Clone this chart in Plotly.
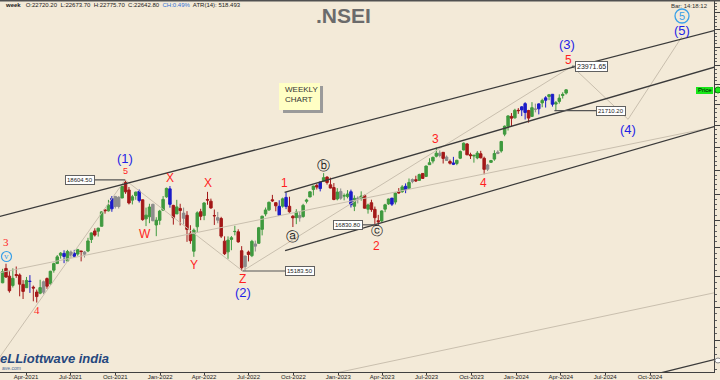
import numpy as np
import pandas as pd
import plotly.graph_objects as go

# ---------------- weekly OHLC data (.NSEI) ----------------
first_week_end = "2021-02-12"
opens = [14789.95, 15270.00, 15010.10, 14702.50, 15064.40, 15048.40, 14736.40, 14628.50, 14837.70, 14644.65,
         14486.50, 14449.45, 14481.05, 14928.25, 14756.25, 15211.35, 15437.75, 15725.10, 15791.40, 15525.85,
         15838.50, 15793.40, 15766.80, 15877.35, 15840.35, 15874.90, 16288.20, 16600.50, 16592.25, 16775.85,
         17400.80, 17363.55, 17443.85, 17932.20, 17531.90, 17867.55, 18500.10, 18189.80, 17783.15, 17967.45,
         18140.95, 17796.25, 17055.80, 17135.55, 17619.10, 16824.25, 17000.55,
         17387.15, 17913.30, 18235.65, 17575.15, 17244.50, 17456.30, 17076.55, 17192.25, 16515.65, 15867.95,
         16757.10, 17329.50, 17181.85, 17809.10, 17740.90, 17183.45, 17006.10, 17068.95, 16227.70, 15845.10,
         16290.95, 16578.45, 16570.55, 15886.15, 15334.50, 15838.50, 15710.50, 16126.20, 16151.40, 16662.55,
         17243.20, 17401.50, 17797.20, 17682.90, 17188.65, 17546.45, 17890.85, 17540.65, 17156.30, 17102.10,
         17094.35, 17144.80, 17736.35, 17910.20, 18211.75, 18376.40, 18246.40, 18552.45, 18719.55, 18402.25,
         18288.80, 17830.40,
         18131.70, 17952.55, 17922.80, 18118.30, 17541.95, 17818.55, 17859.10, 17965.55, 17428.60, 17680.35,
         17421.90, 16985.60, 16977.30, 17427.95, 17634.90, 17863.00, 17707.55, 18124.80, 18120.60, 18339.45,
         18258.65, 18619.15, 18612.00, 18584.80, 18873.30, 18748.55, 19246.50, 19400.35, 19612.15, 19748.45,
         19784.00, 19576.85, 19383.95, 19320.65, 19298.35, 19525.05, 19890.00, 20155.95, 19678.20, 19622.40,
         19539.45, 19722.45, 19521.60, 19053.40, 19345.50, 19486.60, 19731.15, 19844.65, 20601.95, 20965.30,
         21434.80, 21365.20,
         21727.75, 21747.60, 22053.15, 21716.70, 21433.10, 21780.00, 21800.80, 22090.20, 22223.00, 22403.50,
         22517.50, 22031.30, 22163.30, 22455.00, 22578.35]
highs = [15257.10, 15431.75, 15176.50, 15273.15, 15336.30, 15101.70, 14878.60, 14984.05, 15044.35, 14697.70,
         14567.00, 14890.25, 14863.00, 14966.90, 15189.85, 15469.65, 15733.60, 15835.55, 15901.60, 15915.65,
         15893.35, 15915.35, 15952.35, 15881.00, 15876.85, 16349.45, 16543.60, 16701.85, 16722.05, 17340.10,
         17429.55, 17792.95, 17947.65, 17943.50, 17941.85, 18350.75, 18604.45, 18310.45, 17993.20, 18123.45,
         18210.15, 17805.25, 17489.75, 17639.50, 17639.50, 17118.65, 17400.80,
         17944.70, 18286.95, 18350.95, 17599.40, 17794.60, 17639.45, 17490.60, 17351.05, 16815.25, 16694.40,
         17344.60, 17442.40, 17703.70, 18114.65, 17842.75, 17414.70, 17322.50, 17132.85, 16403.70, 16400.55,
         16414.70, 16793.85, 16662.65, 16049.20, 15707.25, 15890.00, 16275.50, 16248.55, 16752.25, 17172.80,
         17490.70, 17724.65, 17992.20, 17685.85, 17777.15, 17883.60, 18096.15, 17919.30, 17196.40, 17428.80,
         17348.55, 17637.00, 17838.90, 18135.10, 18362.30, 18442.15, 18534.90, 18887.60, 18759.40, 18696.10,
         18473.40, 18265.25,
         18251.95, 18049.65, 18183.75, 18204.70, 17972.20, 17935.70, 18134.75, 18004.35, 17644.75, 17799.95,
         17529.90, 17207.25, 17381.60, 17638.70, 17842.15, 17863.00, 18089.15, 18267.45, 18389.70, 18458.90,
         18662.45, 18662.45, 18777.90, 18864.70, 18886.60, 19201.70, 19523.60, 19595.35, 19991.85, 19867.55,
         19795.60, 19645.50, 19465.85, 19584.45, 19458.55, 19867.15, 20222.45, 20195.35, 19766.65, 19661.20,
         19843.65, 19849.75, 19593.80, 19276.25, 19451.30, 19875.25, 19875.15, 20291.55, 21006.10, 21492.30,
         21593.00, 21801.45,
         21834.35, 21928.25, 22124.15, 21750.25, 22126.80, 22053.30, 22068.65, 22297.50, 22420.00, 22525.65,
         22526.60, 22180.70, 22516.00, 22619.00, 22775.70]
lows = [14775.10, 14950.20, 14467.75, 14635.60, 14953.60, 14350.10, 14264.40, 14617.60, 14459.50, 14191.40,
        14151.40, 14416.25, 14416.25, 14591.60, 14725.00, 15126.85, 15421.00, 15607.85, 15450.90, 15505.45,
        15635.95, 15632.75, 15705.85, 15513.45, 15644.75, 15834.65, 16162.05, 16395.70, 16395.70, 16764.85,
        17254.20, 17338.75, 17326.60, 17452.90, 17452.90, 17864.95, 18034.35, 17613.10, 17612.90, 17798.40,
        17688.25, 16985.70, 16782.40, 16891.70, 16966.45, 16410.20, 16833.20,
        17383.25, 17879.15, 17485.70, 16836.80, 17244.50, 16809.65, 16843.80, 16203.25, 16133.80, 15671.45,
        16555.00, 17006.30, 17006.30, 17600.55, 17442.35, 16824.70, 16888.75, 16340.90, 15735.75, 15601.50,
        15903.70, 16438.85, 16172.60, 15183.40, 15191.10, 15511.05, 15661.80, 15858.20, 16142.10, 16438.75,
        17154.80, 17359.75, 17710.75, 17345.20, 17166.20, 17487.45, 17429.70, 17291.65, 16747.70, 16855.55,
        16950.30, 17098.55, 17654.00, 17899.00, 17969.40, 18209.80, 18133.35, 18551.15, 18410.10, 18255.15,
        17779.50, 17774.25,
        17795.55, 17774.25, 17853.65, 17493.55, 17353.40, 17652.55, 17761.65, 17455.40, 17255.20, 17324.35,
        16850.15, 16828.35, 16940.60, 17312.75, 17597.85, 17553.95, 17612.50, 18042.40, 18073.65, 18060.40,
        18254.25, 18464.55, 18516.55, 18571.30, 18647.10, 18722.60, 19234.40, 19300.50, 19562.75, 19563.10,
        19296.45, 19412.75, 19253.60, 19229.70, 19223.65, 19487.75, 19865.35, 19657.50, 19492.10, 19333.60,
        19480.50, 19518.60, 18837.85, 18973.70, 19329.45, 19414.75, 19703.95, 19768.85, 20507.75, 20769.50,
        20976.80, 21329.45,
        21555.65, 21448.65, 21285.55, 21137.20, 21429.60, 21629.20, 21530.20, 21875.25, 21860.65, 22224.35,
        21905.65, 21710.20, 22052.85, 22303.80, 22503.75]
closes = [15163.30, 14981.75, 14529.15, 14938.10, 15030.95, 14744.00, 14507.30, 14867.35, 14834.85, 14617.85,
          14341.35, 14631.10, 14823.15, 14677.80, 15175.30, 15435.65, 15670.25, 15799.35, 15683.35, 15860.35,
          15722.20, 15689.80, 15923.40, 15856.05, 15763.05, 16238.20, 16529.10, 16450.50, 16705.20, 17323.60,
          17369.25, 17585.15, 17853.20, 17532.05, 17895.20, 18338.55, 18114.90, 17671.65, 17916.80, 18102.75,
          17764.80, 17026.45, 17196.70, 17511.30, 16985.20, 17003.75, 17354.05,
          17812.70, 18255.75, 17617.15, 17101.95, 17516.30, 17374.75, 17276.30, 16658.40, 16245.35, 16630.45,
          17287.05, 17153.00, 17670.45, 17784.35, 17475.65, 17171.95, 17102.55, 16411.25, 15782.15, 16266.15,
          16352.45, 16584.30, 16201.80, 15293.50, 15699.25, 15752.05, 16220.60, 16049.20, 16719.45, 17158.25,
          17397.50, 17698.15, 17758.45, 17558.90, 17539.45, 17833.35, 17530.85, 17327.35, 17094.35, 17314.65,
          17185.70, 17576.30, 17786.80, 18117.15, 18349.70, 18307.65, 18512.75, 18696.10, 18496.60, 18269.00,
          17806.80, 18105.30,
          17859.45, 17956.60, 18027.65, 17604.35, 17854.05, 17856.50, 17944.20, 17465.80, 17594.35, 17412.90,
          17100.05, 16945.05, 17359.75, 17599.15, 17828.00, 17624.05, 18065.00, 18069.00, 18314.80, 18203.40,
          18499.35, 18534.10, 18563.40, 18826.00, 18665.50, 19189.05, 19331.80, 19564.50, 19745.00, 19646.05,
          19517.00, 19428.30, 19310.15, 19265.80, 19435.30, 19819.95, 20192.35, 19674.25, 19638.30, 19653.50,
          19751.05, 19542.65, 19047.25, 19230.60, 19425.35, 19731.80, 19794.70, 20267.90, 20969.40, 21456.65,
          21349.40, 21731.40,
          21710.80, 21894.55, 21622.40, 21352.60, 21853.80, 21782.50, 22040.70, 22212.70, 22338.75, 22493.55,
          22023.35, 22096.75, 22326.90, 22513.70, 22742.00]

# ---------------- drawn trend lines (date, price) ----------------
upper_channel_dates = ["2021-01-27", "2025-03-03"]
upper_channel_prices = [17096, 26118]
mid_channel_dates = ["2022-09-13", "2025-03-03"]
mid_channel_prices = [18090, 24086]
low_channel_dates = ["2022-09-14", "2025-03-03"]
low_channel_prices = [15887, 21098]
far_channel_dates = ["2024-10-01", "2025-03-03"]
far_channel_prices = [12027, 12534]

base_line_dates = ["2021-01-27", "2025-03-03"]
base_line_prices = [15092, 21032]
wave1_line_dates = ["2021-01-17", "2021-10-21"]
wave1_line_prices = [12148, 18604.5]
wave2_line_dates = ["2021-10-21", "2022-06-19"]
wave2_line_prices = [18604.5, 15183.5]
wave3_line_dates = ["2022-06-19", "2024-04-24"]
wave3_line_prices = [15183.5, 23971.65]
projection_dates = ["2024-04-24", "2024-08-17", "2024-12-05"]
projection_prices = [23971.65, 21296, 25587]
bottom_line_dates = ["2022-12-15", "2025-03-03"]
bottom_line_prices = [12062, 14534]

# price marker boxes: text, box date, price, connector from, connector to
marker_texts = ["18604.50", "15183.50", "16830.80", "23971.65", "21710.20"]
marker_prices = [18604.5, 15183.5, 16830.8, 23971.65, 21710.2]
marker_box_dates = ["2021-07-21", "2022-10-15", "2023-01-20", "2024-06-03", "2024-07-12"]
marker_link_from = ["2021-08-17", "2022-06-19", "2023-02-17", "2024-04-24", "2024-03-19"]
marker_link_to = ["2021-10-21", "2022-09-17", "2023-03-21", "2024-04-30", "2024-06-15"]

# ---------------- colours ----------------
BG = "#F3EAD8"
GREEN, RED, BLUE, GREY = "#3f9a3f", "#a31818", "#1c1cc8", "#8c8c8c"
LBL_RED, LBL_BLUE, LBL_CYAN = "#ff1f1f", "#1f1fe6", "#3aa0e8"
DARK_LINE, LIGHT_LINE = "#3a3a3a", "#c9bfae"

weeks = pd.date_range(first_week_end, periods=len(closes), freq="W-FRI")

# bar colouring: outside bar blue, inside bar grey, else up green / down red
cats = []
for i in range(len(closes)):
    if i > 0 and highs[i] <= highs[i - 1] and lows[i] >= lows[i - 1]:
        cats.append("inside")
    elif i > 0 and highs[i] > highs[i - 1] and lows[i] < lows[i - 1]:
        cats.append("outside")
    elif closes[i] >= opens[i]:
        cats.append("up")
    else:
        cats.append("down")
cat_color = {"up": GREEN, "down": RED, "outside": BLUE, "inside": GREY}

fig = go.Figure()
for cat, col in cat_color.items():
    idx = [i for i, c in enumerate(cats) if c == cat]
    fig.add_trace(go.Candlestick(
        x=[weeks[i] for i in idx],
        open=[opens[i] for i in idx], high=[highs[i] for i in idx],
        low=[lows[i] for i in idx], close=[closes[i] for i in idx],
        increasing=dict(line=dict(color=col, width=1), fillcolor=col),
        decreasing=dict(line=dict(color=col, width=1), fillcolor=col),
        hoverinfo="skip", showlegend=False))

def add_line(dates, prices, color, width):
    fig.add_trace(go.Scatter(x=dates, y=prices, mode="lines",
                             line=dict(color=color, width=width),
                             hoverinfo="skip", showlegend=False))

for d, p in [(base_line_dates, base_line_prices), (wave1_line_dates, wave1_line_prices),
             (wave2_line_dates, wave2_line_prices), (wave3_line_dates, wave3_line_prices),
             (projection_dates, projection_prices), (bottom_line_dates, bottom_line_prices)]:
    add_line(d, p, LIGHT_LINE, 1)
for d, p in [(upper_channel_dates, upper_channel_prices), (mid_channel_dates, mid_channel_prices),
             (low_channel_dates, low_channel_prices), (far_channel_dates, far_channel_prices)]:
    add_line(d, p, DARK_LINE, 1.3)
for a, b, p in zip(marker_link_from, marker_link_to, marker_prices):
    add_line([a, b], [p, p], "#555555", 1.2)

ann = []
for t, d, p in zip(marker_texts, marker_box_dates, marker_prices):
    ann.append(dict(x=d, y=np.log10(p), xref="x", yref="y", text=t, showarrow=False,
                    xanchor="center", yanchor="middle",
                    font=dict(family="Liberation Sans", size=7 if t == "23971.65" else 6, color="#222222"),
                    bgcolor="#ffffff", bordercolor="#606060", borderwidth=1, borderpad=1))

wave_labels = [
    ("(1)", "2021-10-21", 19492, LBL_BLUE, 13, "Liberation Sans"),
    ("5", "2021-10-21", 18977, LBL_RED, 9, "Liberation Sans"),
    ("X", "2022-01-21", 18683, LBL_RED, 12, "Liberation Sans"),
    ("X", "2022-04-09", 18476, LBL_RED, 12, "Liberation Sans"),
    ("W", "2021-11-30", 16490, LBL_RED, 12, "Liberation Sans"),
    ("Y", "2022-03-11", 15388, LBL_RED, 12, "Liberation Sans"),
    ("Z", "2022-06-19", 14915, LBL_RED, 12, "Liberation Sans"),
    ("(2)", "2022-06-19", 14457, LBL_BLUE, 13, "Liberation Sans"),
    ("1", "2022-09-13", 18476, LBL_RED, 12, "Liberation Sans"),
    ("2", "2023-03-21", 16060, LBL_RED, 12, "Liberation Sans"),
    ("3", "2023-07-20", 20381, LBL_RED, 12, "Liberation Sans"),
    ("4", "2023-10-26", 18476, LBL_RED, 12, "Liberation Sans"),
    ("(3)", "2024-04-14", 25180, LBL_BLUE, 13, "Liberation Sans"),
    ("5", "2024-04-16", 24330, LBL_RED, 12, "Liberation Sans"),
    ("(4)", "2024-08-17", 20840, LBL_BLUE, 13, "Liberation Sans"),
    ("(5)", "2024-12-05", 25950, LBL_BLUE, 13, "Liberation Sans"),
    ("3", "2021-02-19", 16200, LBL_RED, 11, "Liberation Serif"),
    ("4", "2021-04-23", 13918, LBL_RED, 11, "Liberation Serif"),
    ("ⓐ", "2022-09-30", 16416, "#202020", 13, "DejaVu Sans"),
    ("ⓑ", "2022-12-02", 19232, "#202020", 13, "DejaVu Sans"),
    ("ⓒ", "2023-03-21", 16600, "#202020", 12, "DejaVu Sans"),
    ("5", "2024-12-05", 26800, LBL_CYAN, 11, "Liberation Sans"),
    ("v", "2021-02-20", 15690, LBL_CYAN, 9, "Liberation Serif"),
    ("○", "2021-02-02", 13371, LBL_CYAN, 14, "DejaVu Sans"),
]
for t, d, p, c, s, f in wave_labels:
    ann.append(dict(x=d, y=np.log10(p), xref="x", yref="y", text=t, showarrow=False,
                    xanchor="center", yanchor="middle",
                    font=dict(family=f, size=s, color=c)))

# paper-positioned texts
def ptext(x, y, text, size, color, xanchor="center", **kw):
    return dict(x=x, y=y, xref="paper", yref="paper", text=text, showarrow=False,
                xanchor=xanchor, yanchor="middle",
                font=dict(family="Liberation Sans", size=size, color=color), **kw)

ann += [
    ptext(0.4804, 0.9596, "<b>.NSEI</b>", 21, "#6b6b6b"),
    ptext(0.004, 0.9879, "<b>week</b>   O:22720.20  L:22673.70  H:22775.70  C:22642.80  "
                         "<span style='color:#2f6fd6'>CH:0.49%</span>  ATR(14): 518.493",
          6, "#202020", xanchor="left"),
    ptext(0.9944, 0.9873, "Bar: 14:18:12", 6, "#303030", xanchor="right"),
    ptext(0.3964, 0.7485, "WEEKLY<br>CHART", 8, "#333333", xanchor="left", align="left"),
    ptext(0.9867, 0.7588, "Price", 6, "#000000"),
    ptext(-0.003, 0.0364, "<b><i>eLLiottwave india</i></b>", 13, "#26477d", xanchor="left"),
    ptext(0.0, 0.0121, "ave.com", 5, "#4a6a9a", xanchor="left"),
]

shapes = [
    dict(type="rect", xref="paper", yref="paper", x0=0.3964, x1=0.4524, y0=0.6981, y1=0.7709,
         fillcolor="#9a9a9a", line=dict(width=0), layer="above"),
    dict(type="rect", xref="paper", yref="paper", x0=0.3908, x1=0.4482, y0=0.7062, y1=0.7790,
         fillcolor="#ffffc4", line=dict(width=0), layer="above"),
    dict(type="rect", xref="paper", yref="paper", x0=0.9748, x1=0.9986, y0=0.7493, y1=0.7682,
         fillcolor="#19e619", line=dict(width=0), layer="above"),
    dict(type="circle", xref="paper", yref="paper", x0=1.0014, x1=1.0098, y0=0.7520, y1=0.7682,
         fillcolor="#19e619", line=dict(color="#0a8a0a", width=1), layer="above"),
    dict(type="circle", xref="paper", yref="paper", x0=1.0014, x1=1.0098, y0=0.0243, y1=0.0377,
         fillcolor="#ffffff", line=dict(color="#888888", width=1), layer="above"),
    # rings around the cyan degree labels
    dict(type="circle", xref="paper", yref="paper", x0=0.9454, x1=0.9650, y0=0.9407, y1=0.9784,
         fillcolor="rgba(0,0,0,0)", line=dict(color=LBL_CYAN, width=1.3), layer="above"),
    dict(type="circle", xref="paper", yref="paper", x0=0.0021, x1=0.0161, y0=0.2978, y1=0.3248,
         fillcolor="rgba(0,0,0,0)", line=dict(color=LBL_CYAN, width=1.2), layer="above"),
    dict(type="line", xref="paper", yref="paper", x0=0, x1=1.01, y0=1.0013, y1=1.0013,
         line=dict(color="#505050", width=2), layer="above"),
]

xticks = pd.date_range("2021-04-01", "2024-10-01", freq="QS")
fig.update_layout(
    width=720, height=380, autosize=False,
    margin=dict(l=0, r=6, t=1, b=8, autoexpand=False),
    paper_bgcolor=BG, plot_bgcolor=BG,
    showlegend=False, hovermode=False,
    boxgap=0.15, boxgroupgap=0.15,
    annotations=ann, shapes=shapes,
    xaxis=dict(type="date", range=["2021-02-06 17:00", "2025-02-09 02:00"],
               rangeslider=dict(visible=False), showgrid=False, zeroline=False,
               showline=True, linecolor="#404040", linewidth=1,
               tickmode="array", tickvals=list(xticks), tickformat="%b-%Y",
               ticks="outside", ticklen=2, tickcolor="#404040", ticklabelstandoff=-3,
               tickfont=dict(family="Liberation Sans", size=6, color="#222222")),
    yaxis=dict(type="log", range=[4.08355, 4.44287], side="right",
               showgrid=False, zeroline=False, showline=True, linecolor="#404040", linewidth=1,
               showticklabels=False, ticks="outside", ticklen=5, tickcolor="#404040",
               tickmode="array", tickvals=list(range(12000, 28001, 1000)),
               minor=dict(tickmode="array", tickvals=list(range(12000, 28001, 200)),
                          ticks="outside", ticklen=2, tickcolor="#606060")),
)

fig.write_html("out.html", config={"displayModeBar": False, "staticPlot": True},
               post_script="document.body.style.margin='0px';document.body.style.overflow='hidden';"
                           "document.body.style.background='" + BG + "';")
